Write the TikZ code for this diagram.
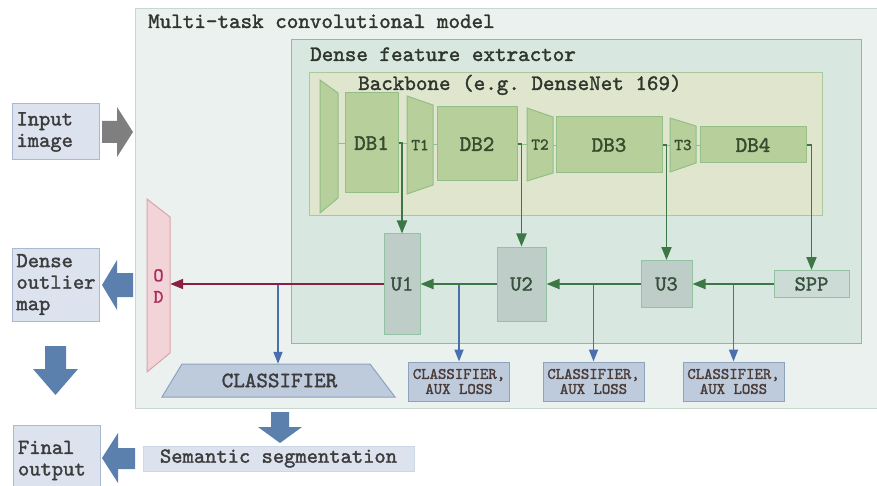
\documentclass[tikz,border=0pt]{standalone}
\usepackage{fontspec}
\setmonofont{lmmono10-regular.otf}[FakeBold=1.6]
\usetikzlibrary{arrows.meta}

% palette
\definecolor{modelfill}{HTML}{EBF1EE}
\definecolor{modelline}{HTML}{C8D8CE}
\definecolor{dfefill}{HTML}{D8E8E1}
\definecolor{dfeline}{HTML}{8FBA9E}
\definecolor{bbfill}{HTML}{DFE6CD}
\definecolor{bbline}{HTML}{A9C99A}
\definecolor{blkfill}{HTML}{B6CF9B}
\definecolor{blkline}{HTML}{93BE88}
\definecolor{upfill}{HTML}{BFCDC8}
\definecolor{upline}{HTML}{93C2A2}
\definecolor{sppfill}{HTML}{CCDBD6}
\definecolor{dgreen}{HTML}{3D7746}
\definecolor{maroon}{HTML}{892042}
\definecolor{bluel}{HTML}{4A6FAE}
\definecolor{clsfill}{HTML}{BECBDC}
\definecolor{clsline}{HTML}{8EA2BC}
\definecolor{iofill}{HTML}{DCE3EE}
\definecolor{ioline}{HTML}{A9B9D3}
\definecolor{segline}{HTML}{CCD7E7}
\definecolor{bigblue}{HTML}{5C80AD}
\definecolor{biggrey}{HTML}{7F7F7F}
\definecolor{odfill}{HTML}{F2D3D8}
\definecolor{odline}{HTML}{DDA2AE}
\definecolor{odtext}{HTML}{B02A5A}
\definecolor{titletext}{HTML}{2E362E}
\definecolor{blktext}{HTML}{3A4A2E}
\definecolor{uptext}{HTML}{35503C}
\definecolor{iotext}{HTML}{3C3C3C}
\definecolor{auxtext}{HTML}{4A3B36}

\newcommand\mtt[2]{\ttfamily\fontsize{#1}{#2}\selectfont}

\tikzset{
  container/.style={anchor=north west, inner sep=0pt, line width=1pt},
  title/.style={anchor=base west, inner sep=0pt, font=\mtt{22}{22}, text=titletext},
  blk/.style={draw=blkline, fill=blkfill, line width=1pt, inner sep=0pt,
              font=\mtt{22}{22}, text=blktext},
  blkshape/.style={draw=blkline, fill=blkfill, line width=1pt},
  tlabel/.style={inner sep=0pt, font=\mtt{16.5}{17}, text=blktext},
  upbox/.style={draw=upline, fill=upfill, line width=1pt, inner sep=0pt,
                font=\mtt{21.5}{22}, text=uptext},
  auxbox/.style={draw=clsline, fill=clsfill, line width=1pt, inner sep=0pt,
                 align=center, font=\mtt{16}{15}, text=auxtext,
                 minimum width=101, minimum height=39},
  iobox/.style={draw=ioline, fill=iofill, line width=1pt, inner xsep=4.5pt,
                text width=78, align=left, font=\mtt{21.5}{21.5}, text=iotext,
                minimum width=87},
  thinlink/.style={draw=blkline, line width=0.9pt},
  skiparrow/.style={draw=dgreen, line width=1.9pt,
                    -{Triangle[length=13pt,width=10pt]}},
  odarrow/.style={draw=maroon, line width=1.9pt,
                  -{Triangle[length=13pt,width=10pt]}},
  bluearrow/.style={draw=bluel, line width=1.7pt,
                    -{Triangle[length=12pt,width=9pt]}},
}

\begin{document}
\begin{tikzpicture}[x=1pt,y=-1pt]
\useasboundingbox (0,0) rectangle (877,486);
\clip (0,0) rectangle (877,486);

% ---- nested containers
\node[container, fill=modelfill, draw=modelline, minimum width=750, minimum height=400]
  (model) at (135,8) {};
\node[title] (modeltitle) at (148,28) {Multi-task convolutional model};

\node[container, fill=dfefill, draw=dfeline, minimum width=570, minimum height=304]
  (dfe) at (291,39) {};
\node[title] (dfetitle) at (310,61) {Dense feature extractor};

\node[container, fill=bbfill, draw=bbline, minimum width=513, minimum height=143]
  (bb) at (309,72) {};
\node[title] (bbtitle) at (358,90) {Backbone (e.g. DenseNet 169)};

% ---- backbone: stem, dense blocks and transitions
\draw[blkshape] (320,80) -- (338,93) -- (338,198) -- (320,213) -- cycle;
\node[inner sep=0pt, minimum width=18, minimum height=133] (stem) at (329,146.5) {};

\node[blk, minimum width=53,  minimum height=100] (db1) at (371.5,143) {DB1};
\node[blk, minimum width=80,  minimum height=74]  (db2) at (477,144)   {DB2};
\node[blk, minimum width=106, minimum height=56]  (db3) at (609,145)   {DB3};
\node[blk, minimum width=106, minimum height=36]  (db4) at (753,145)   {DB4};

\draw[blkshape] (407,96) -- (433,105) -- (433,185) -- (407,194) -- cycle;
\node[tlabel, minimum width=26, minimum height=98] (t1) at (420,145) {T1};
\draw[blkshape] (527,108) -- (553,117) -- (553,173) -- (527,181) -- cycle;
\node[tlabel, minimum width=26, minimum height=73] (t2) at (540,144.5) {T2};
\draw[blkshape] (670,118) -- (696,126) -- (696,163) -- (670,172) -- cycle;
\node[tlabel, minimum width=26, minimum height=54] (t3) at (683,145) {T3};

\draw[thinlink] (stem.east |- db1.west) -- (db1.west);
\draw[thinlink] (db1.east) -- (t1.west |- db1.east);
\draw[thinlink] (t1.east |- db2.west) -- (db2.west);
\draw[thinlink] (db2.east) -- (t2.west |- db2.east);
\draw[thinlink] (t2.east |- db3.west) -- (db3.west);
\draw[thinlink] (db3.east) -- (t3.west |- db3.east);
\draw[thinlink] (t3.east |- db4.west) -- (db4.west);

% ---- upsampling path
\node[upbox, minimum width=36, minimum height=100] (u1) at (402,284) {U1};
\node[upbox, minimum width=49, minimum height=74]  (u2) at (521.5,284) {U2};
\node[upbox, minimum width=51, minimum height=47]  (u3) at (666.5,284) {U3};
\node[upbox, fill=sppfill, minimum width=75, minimum height=27] (spp) at (811.5,284) {SPP};

% ---- outlier detection head
\draw[draw=odline, fill=odfill, line width=1pt]
  (147,199) -- (170,217) -- (170,353) -- (147,372) -- cycle;
\node[inner sep=0pt, minimum width=23, minimum height=173, align=center,
      font=\mtt{19}{21.5}, text=odtext] (od) at (158.5,286) {O\\D};

% ---- classifiers
\draw[draw=clsline, fill=clsfill, line width=1pt]
  (162,397) -- (182,364) -- (370,364) -- (395,397) -- cycle;
\node[inner sep=0pt, minimum width=188, minimum height=33,
      font=\mtt{22}{22}, text=iotext] (cls) at (279.5,380.5) {CLASSIFIER};

\node[auxbox] (aux1) at (459,381.5)   {CLASSIFIER,\\AUX LOSS};
\node[auxbox] (aux2) at (593.5,381.5) {CLASSIFIER,\\AUX LOSS};
\node[auxbox] (aux3) at (733.5,381.5) {CLASSIFIER,\\AUX LOSS};

% ---- branches to the classifiers
\coordinate (j0) at (278,284);
\draw[bluearrow] (j0) -- (j0 |- cls.north);
\draw[bluearrow] (aux1.north |- u1.east) -- (aux1.north);
\draw[bluearrow] (aux2.north |- u2.east) -- (aux2.north);
\draw[bluearrow] (aux3.north |- u3.east) -- (aux3.north);

% ---- skip connections and upsampling flow
\draw[skiparrow] (db1.east) -| (u1.north);
\draw[skiparrow] (db2.east) -| (u2.north);
\draw[skiparrow] (db3.east) -| (u3.north);
\draw[skiparrow] (db4.east) -| (spp.north);
\draw[skiparrow] (spp.west) -- (u3.east);
\draw[skiparrow] (u3.west) -- (u2.east);
\draw[skiparrow] (u2.west) -- (u1.east);
\draw[odarrow] (u1.west) -- (od.east |- u1.west);

% ---- inputs and outputs
\node[iobox, minimum height=56] (input) at (55.5,132) {Input\\image};
\node[iobox, minimum height=73] (outlier) at (55.5,284.5) {Dense\\outlier\\map};
\node[iobox, anchor=north west, minimum width=86, minimum height=70]
  (final) at (13,425) {Final\\output};
\node[draw=segline, fill=iofill, line width=1pt, inner sep=0pt,
      minimum width=271, minimum height=25, font=\mtt{21.5}{22}, text=iotext]
  (seg) at (278.5,458.5) {Semantic segmentation};

% ---- block arrows
\fill[biggrey] (102,121) -- (117,121) -- (117,107) -- (133,132)
  -- (117,157) -- (117,143) -- (102,143) -- cycle;
\fill[bigblue] (133,273) -- (117,273) -- (117,260) -- (102,285)
  -- (117,310) -- (117,297) -- (133,297) -- cycle;
\fill[bigblue] (45,346) -- (66,346) -- (66,369) -- (78,369)
  -- (55.5,395) -- (33,369) -- (45,369) -- cycle;
\fill[bigblue] (271,412) -- (289,412) -- (289,427) -- (302,427)
  -- (280,443) -- (258,427) -- (271,427) -- cycle;
\fill[bigblue] (135,448) -- (118,448) -- (118,433) -- (102,458)
  -- (118,483) -- (118,469) -- (135,469) -- cycle;
\end{tikzpicture}
\end{document}
